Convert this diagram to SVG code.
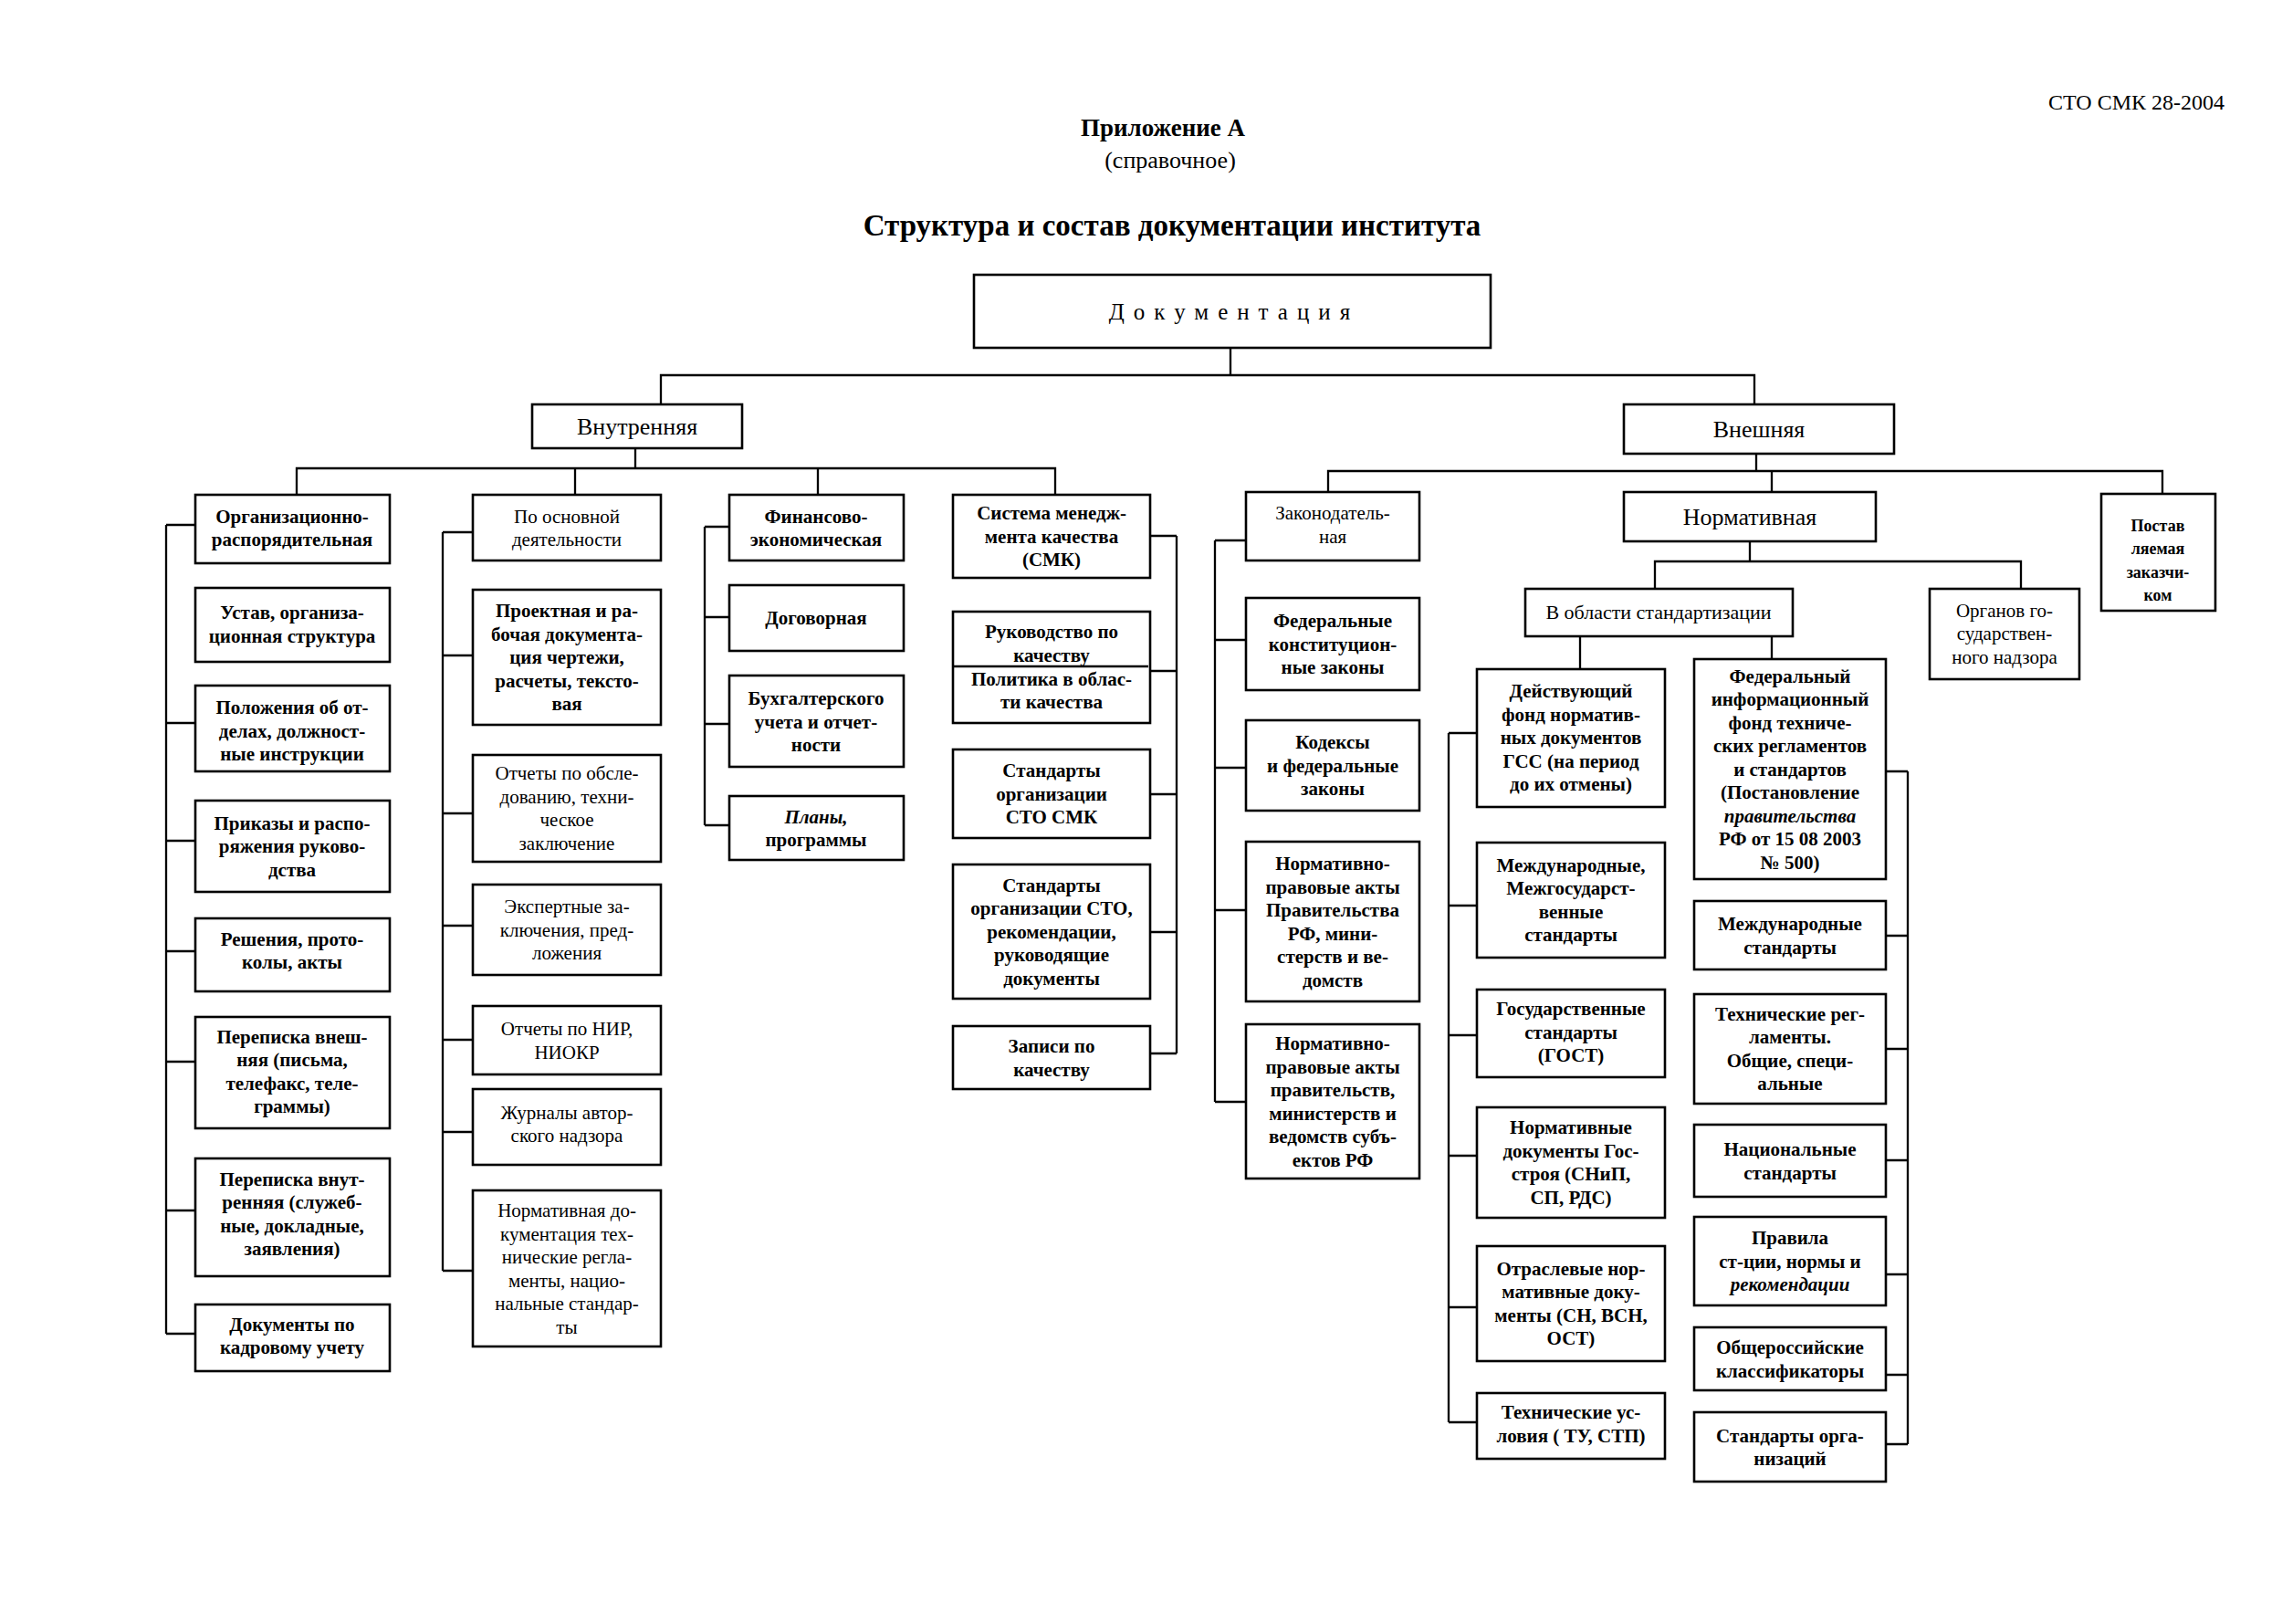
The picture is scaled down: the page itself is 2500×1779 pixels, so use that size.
<svg xmlns="http://www.w3.org/2000/svg" width="2500" height="1779" viewBox="0 0 2500 1779">
<style>
.bg{fill:#fff}
.box{fill:#fff;stroke:#000;stroke-width:2.6}
.ln{fill:none;stroke:#000;stroke-width:2.3}
text{font-family:"Liberation Serif","Times New Roman",serif;fill:#000;text-anchor:middle}
.t{font-size:21px;font-weight:bold}
.r{font-size:21px;font-weight:normal}
.h{font-size:26px}
.i{font-style:italic}
</style>
<rect class="bg" x="0" y="0" width="2500" height="1779"/>
<text x="2437" y="120" style="font-size:24px;text-anchor:end">СТО СМК 28-2004</text>
<text x="1274" y="149" style="font-size:27px;font-weight:bold">Приложение А</text>
<text x="1282" y="184" style="font-size:26px">(справочное)</text>
<text x="1284" y="258" style="font-size:33px;font-weight:bold">Структура и состав документации института</text>

<g id="connectors">
<path class="ln" d="M1348 381V411M724 443V411H1922V443"/>
<path class="ln" d="M696 491V513M325 542V513H1156V542M630 513V542M896 513V542"/>
<path class="ln" d="M182 575V1461M182 575H214M182 792H214M182 921H214M182 1042H214M182 1163H214M182 1326H214M182 1461H214"/>
<path class="ln" d="M485 583V1392M485 583H518M485 718H518M485 891H518M485 1014H518M485 1139H518M485 1240H518M485 1392H518"/>
<path class="ln" d="M772 577V904M772 577H799M772 676H799M772 793H799M772 904H799"/>
<path class="ln" d="M1289 587V1154M1260 587H1289M1260 735H1289M1260 870H1289M1260 1021H1289M1260 1154H1289"/>
<path class="ln" d="M1331 592V1207M1331 592H1365M1331 701H1365M1331 841H1365M1331 997H1365M1331 1207H1365"/>
<path class="ln" d="M1924 497V516M1455 539V516H2369V541M1941 516V539"/>
<path class="ln" d="M1917 593V615M1813 645V615H2214V645"/>
<path class="ln" d="M1731 697V733M1941 697V722"/>
<path class="ln" d="M1587 803V1558M1587 803H1618M1587 992H1618M1587 1134H1618M1587 1266H1618M1587 1432H1618M1587 1558H1618"/>
<path class="ln" d="M2090 845V1582M2066 845H2090M2066 1025H2090M2066 1149H2090M2066 1271H2090M2066 1396H2090M2066 1506H2090M2066 1582H2090"/>
</g>

<g id="n-dok"><rect class="box" x="1067" y="301" width="566" height="80"/><text x="1352" y="350" style="font-size:25px;letter-spacing:10px">Документация</text></g>
<g id="n-vnutr"><rect class="box" x="583" y="443" width="230" height="48"/><text class="h" x="698" y="476">Внутренняя</text></g>
<g id="n-vnesh"><rect class="box" x="1779" y="443" width="296" height="54"/><text class="h" x="1927" y="479">Внешняя</text></g>

<!-- column 1 -->
<g id="n-org"><rect class="box" x="214" y="542" width="213" height="75"/><text class="t" x="320"><tspan x="320" y="573">Организационно-</tspan><tspan x="320" y="598">распорядительная</tspan></text></g>
<g id="n-ustav"><rect class="box" x="214" y="644" width="213" height="81"/><text class="t"><tspan x="320" y="678">Устав, организа-</tspan><tspan x="320" y="704">ционная структура</tspan></text></g>
<g id="n-polozh"><rect class="box" x="214" y="751" width="213" height="94"/><text class="t"><tspan x="320" y="782">Положения  об от-</tspan><tspan x="320" y="808">делах, должност-</tspan><tspan x="320" y="833">ные инструкции</tspan></text></g>
<g id="n-prikaz"><rect class="box" x="214" y="877" width="213" height="100"/><text class="t"><tspan x="320" y="909">Приказы и распо-</tspan><tspan x="320" y="934">ряжения руково-</tspan><tspan x="320" y="960">дства</tspan></text></g>
<g id="n-resh"><rect class="box" x="214" y="1006" width="213" height="80"/><text class="t"><tspan x="320" y="1036">Решения, прото-</tspan><tspan x="320" y="1061">колы, акты</tspan></text></g>
<g id="n-perevn"><rect class="box" x="214" y="1114" width="213" height="122"/><text class="t"><tspan x="320" y="1143">Переписка внеш-</tspan><tspan x="320" y="1168">няя (письма,</tspan><tspan x="320" y="1194">телефакс, теле-</tspan><tspan x="320" y="1219">граммы)</tspan></text></g>
<g id="n-perevt"><rect class="box" x="214" y="1269" width="213" height="129"/><text class="t"><tspan x="320" y="1299">Переписка внут-</tspan><tspan x="320" y="1324">ренняя  (служеб-</tspan><tspan x="320" y="1350">ные, докладные,</tspan><tspan x="320" y="1375">заявления)</tspan></text></g>
<g id="n-kadr"><rect class="box" x="214" y="1429" width="213" height="73"/><text class="t"><tspan x="320" y="1458">Документы по</tspan><tspan x="320" y="1483">кадровому учету</tspan></text></g>

<!-- column 2 -->
<g id="n-osn"><rect class="box" x="518" y="542" width="206" height="72"/><text class="r"><tspan x="621" y="573">По основной</tspan><tspan x="621" y="598">деятельности</tspan></text></g>
<g id="n-proekt"><rect class="box" x="518" y="646" width="206" height="148"/><text class="t"><tspan x="621" y="676">Проектная и ра-</tspan><tspan x="621" y="702">бочая документа-</tspan><tspan x="621" y="727">ция  чертежи,</tspan><tspan x="621" y="753">расчеты, тексто-</tspan><tspan x="621" y="778">вая</tspan></text></g>
<g id="n-obsl"><rect class="box" x="518" y="827" width="206" height="117"/><text class="r"><tspan x="621" y="854">Отчеты по обсле-</tspan><tspan x="621" y="880">дованию, техни-</tspan><tspan x="621" y="905">ческое</tspan><tspan x="621" y="931">заключение</tspan></text></g>
<g id="n-eksp"><rect class="box" x="518" y="969" width="206" height="99"/><text class="r"><tspan x="621" y="1000">Экспертные за-</tspan><tspan x="621" y="1026">ключения, пред-</tspan><tspan x="621" y="1051">ложения</tspan></text></g>
<g id="n-nir"><rect class="box" x="518" y="1102" width="206" height="75"/><text class="r"><tspan x="621" y="1134">Отчеты по НИР,</tspan><tspan x="621" y="1160">НИОКР</tspan></text></g>
<g id="n-zhurn"><rect class="box" x="518" y="1193" width="206" height="83"/><text class="r"><tspan x="621" y="1226">Журналы автор-</tspan><tspan x="621" y="1251">ского надзора</tspan></text></g>
<g id="n-normdok"><rect class="box" x="518" y="1304" width="206" height="171"/><text class="r"><tspan x="621" y="1333">Нормативная до-</tspan><tspan x="621" y="1359">кументация  тех-</tspan><tspan x="621" y="1384">нические регла-</tspan><tspan x="621" y="1410">менты, нацио-</tspan><tspan x="621" y="1435">нальные стандар-</tspan><tspan x="621" y="1461">ты</tspan></text></g>

<!-- column 3 -->
<g id="n-fin"><rect class="box" x="799" y="542" width="191" height="72"/><text class="t"><tspan x="894" y="573">Финансово-</tspan><tspan x="894" y="598">экономическая</tspan></text></g>
<g id="n-dogov"><rect class="box" x="799" y="641" width="191" height="72"/><text class="t" x="894" y="684">Договорная</text></g>
<g id="n-buh"><rect class="box" x="799" y="740" width="191" height="100"/><text class="t"><tspan x="894" y="772">Бухгалтерского</tspan><tspan x="894" y="798">учета и отчет-</tspan><tspan x="894" y="823">ности</tspan></text></g>
<g id="n-plany"><rect class="box" x="799" y="872" width="191" height="70"/><text class="t"><tspan class="i" x="894" y="902">Планы,</tspan><tspan x="894" y="927">программы</tspan></text></g>

<!-- column 4 -->
<g id="n-smk"><rect class="box" x="1044" y="542" width="216" height="91"/><text class="t"><tspan x="1152" y="569">Система менедж-</tspan><tspan x="1152" y="595">мента качества</tspan><tspan x="1152" y="620">(СМК)</tspan></text></g>
<g id="n-rukov"><rect class="box" x="1044" y="670" width="216" height="122"/><path class="ln" d="M1044 730H1258"/><text class="t"><tspan x="1152" y="699">Руководство по</tspan><tspan x="1152" y="725">качеству</tspan><tspan x="1152" y="751">Политика в облас-</tspan><tspan x="1152" y="776">ти качества</tspan></text></g>
<g id="n-stosmk"><rect class="box" x="1044" y="821" width="216" height="97"/><text class="t"><tspan x="1152" y="851">Стандарты</tspan><tspan x="1152" y="877">организации</tspan><tspan x="1152" y="902">СТО СМК</tspan></text></g>
<g id="n-sto"><rect class="box" x="1044" y="947" width="216" height="147"/><text class="t"><tspan x="1152" y="977">Стандарты</tspan><tspan x="1152" y="1002">организации СТО,</tspan><tspan x="1152" y="1028">рекомендации,</tspan><tspan x="1152" y="1053">руководящие</tspan><tspan x="1152" y="1079">документы</tspan></text></g>
<g id="n-zapisi"><rect class="box" x="1044" y="1124" width="216" height="69"/><text class="t"><tspan x="1152" y="1153">Записи по</tspan><tspan x="1152" y="1179">качеству</tspan></text></g>

<!-- column 5 -->
<g id="n-zakon"><rect class="box" x="1365" y="539" width="190" height="75"/><text class="r"><tspan x="1460" y="569">Законодатель-</tspan><tspan x="1460" y="595">ная</tspan></text></g>
<g id="n-fkz"><rect class="box" x="1365" y="655" width="190" height="101"/><text class="t"><tspan x="1460" y="687">Федеральные</tspan><tspan x="1460" y="713">конституцион-</tspan><tspan x="1460" y="738">ные законы</tspan></text></g>
<g id="n-kodeks"><rect class="box" x="1365" y="789" width="190" height="99"/><text class="t"><tspan x="1460" y="820">Кодексы</tspan><tspan x="1460" y="846">и федеральные</tspan><tspan x="1460" y="871">законы</tspan></text></g>
<g id="n-npa1"><rect class="box" x="1365" y="922" width="190" height="175"/><text class="t"><tspan x="1460" y="953">Нормативно-</tspan><tspan x="1460" y="979">правовые акты</tspan><tspan x="1460" y="1004">Правительства</tspan><tspan x="1460" y="1030">РФ, мини-</tspan><tspan x="1460" y="1055">стерств и ве-</tspan><tspan x="1460" y="1081">домств</tspan></text></g>
<g id="n-npa2"><rect class="box" x="1365" y="1122" width="190" height="169"/><text class="t"><tspan x="1460" y="1150">Нормативно-</tspan><tspan x="1460" y="1176">правовые акты</tspan><tspan x="1460" y="1201">правительств,</tspan><tspan x="1460" y="1227">министерств и</tspan><tspan x="1460" y="1252">ведомств субъ-</tspan><tspan x="1460" y="1278">ектов РФ</tspan></text></g>

<!-- normative -->
<g id="n-norm"><rect class="box" x="1779" y="539" width="276" height="54"/><text class="h" x="1917" y="575">Нормативная</text></g>
<g id="n-postav"><rect class="box" x="2302" y="541" width="125" height="128"/><text style="font-size:18px;font-weight:bold"><tspan x="2364" y="582">Постав</tspan><tspan x="2364" y="607">ляемая</tspan><tspan x="2364" y="633">заказчи-</tspan><tspan x="2364" y="658">ком</tspan></text></g>
<g id="n-oblast"><rect class="box" x="1671" y="645" width="293" height="52"/><text x="1817" y="678" style="font-size:22px">В области стандартизации</text></g>
<g id="n-organ"><rect class="box" x="2114" y="645" width="164" height="99"/><text style="font-size:21px"><tspan x="2196" y="676">Органов го-</tspan><tspan x="2196" y="701">сударствен-</tspan><tspan x="2196" y="727">ного надзора</tspan></text></g>

<!-- left sub-column -->
<g id="n-deistv"><rect class="box" x="1618" y="733" width="206" height="151"/><text class="t"><tspan x="1721" y="764">Действующий</tspan><tspan x="1721" y="790">фонд норматив-</tspan><tspan x="1721" y="815">ных документов</tspan><tspan x="1721" y="841">ГСС (на период</tspan><tspan x="1721" y="866">до их отмены)</tspan></text></g>
<g id="n-mezhgos"><rect class="box" x="1618" y="923" width="206" height="126"/><text class="t"><tspan x="1721" y="955">Международные,</tspan><tspan x="1721" y="980">Межгосударст-</tspan><tspan x="1721" y="1006">венные</tspan><tspan x="1721" y="1031">стандарты</tspan></text></g>
<g id="n-gost"><rect class="box" x="1618" y="1084" width="206" height="96"/><text class="t"><tspan x="1721" y="1112">Государственные</tspan><tspan x="1721" y="1138">стандарты</tspan><tspan x="1721" y="1163">(ГОСТ)</tspan></text></g>
<g id="n-gosstroy"><rect class="box" x="1618" y="1213" width="206" height="121"/><text class="t"><tspan x="1721" y="1242">Нормативные</tspan><tspan x="1721" y="1268">документы Гос-</tspan><tspan x="1721" y="1293">строя (СНиП,</tspan><tspan x="1721" y="1319">СП, РДС)</tspan></text></g>
<g id="n-otrasl"><rect class="box" x="1618" y="1365" width="206" height="126"/><text class="t"><tspan x="1721" y="1397">Отраслевые нор-</tspan><tspan x="1721" y="1422">мативные доку-</tspan><tspan x="1721" y="1448">менты (СН, ВСН,</tspan><tspan x="1721" y="1473">ОСТ)</tspan></text></g>
<g id="n-tu"><rect class="box" x="1618" y="1526" width="206" height="72"/><text class="t"><tspan x="1721" y="1554">Технические ус-</tspan><tspan x="1721" y="1580">ловия ( ТУ, СТП)</tspan></text></g>

<!-- right sub-column -->
<g id="n-fif"><rect class="box" x="1856" y="722" width="210" height="241"/><text class="t"><tspan x="1961" y="748">Федеральный</tspan><tspan x="1961" y="773">информационный</tspan><tspan x="1961" y="799">фонд техниче-</tspan><tspan x="1961" y="824">ских регламентов</tspan><tspan x="1961" y="850">и стандартов</tspan><tspan x="1961" y="875">(Постановление</tspan><tspan class="i" x="1961" y="901">правительства</tspan><tspan x="1961" y="926">РФ от 15 08 2003</tspan><tspan x="1961" y="952">№ 500)</tspan></text></g>
<g id="n-mezhd"><rect class="box" x="1856" y="987" width="210" height="75"/><text class="t"><tspan x="1961" y="1019">Международные</tspan><tspan x="1961" y="1045">стандарты</tspan></text></g>
<g id="n-tehreg"><rect class="box" x="1856" y="1089" width="210" height="120"/><text class="t"><tspan x="1961" y="1118">Технические рег-</tspan><tspan x="1961" y="1143">ламенты.</tspan><tspan x="1961" y="1169">Общие, специ-</tspan><tspan x="1961" y="1194">альные</tspan></text></g>
<g id="n-nac"><rect class="box" x="1856" y="1232" width="210" height="79"/><text class="t"><tspan x="1961" y="1266">Национальные</tspan><tspan x="1961" y="1292">стандарты</tspan></text></g>
<g id="n-pravila"><rect class="box" x="1856" y="1333" width="210" height="97"/><text class="t"><tspan x="1961" y="1363">Правила</tspan><tspan x="1961" y="1389">ст-ции, нормы и</tspan><tspan class="i" x="1961" y="1414">рекомендации</tspan></text></g>
<g id="n-okl"><rect class="box" x="1856" y="1454" width="210" height="69"/><text class="t"><tspan x="1961" y="1483">Общероссийские</tspan><tspan x="1961" y="1509">классификаторы</tspan></text></g>
<g id="n-storg"><rect class="box" x="1856" y="1547" width="210" height="76"/><text class="t"><tspan x="1961" y="1580">Стандарты орга-</tspan><tspan x="1961" y="1605">низаций</tspan></text></g>
</svg>
